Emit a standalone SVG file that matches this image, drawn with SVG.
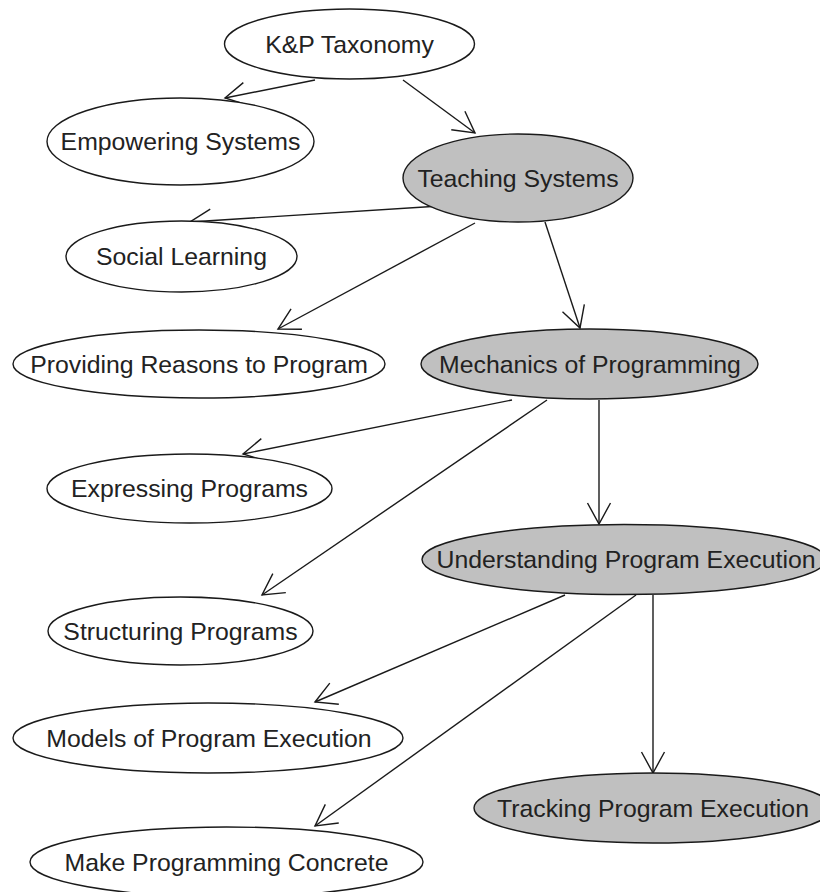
<svg xmlns="http://www.w3.org/2000/svg" width="820" height="892" viewBox="0 0 820 892">
<defs>
<style>
.n ellipse{fill:#ffffff;stroke:#1a1a1a;stroke-width:1.4}
.n.g ellipse{fill:#c0c0c0}
.n text{font-family:"Liberation Sans",Arial,sans-serif;font-size:24.8px;fill:#222;text-anchor:middle}
.e line{stroke:#1a1a1a;stroke-width:1.4;marker-end:url(#a)}
</style>
<marker id="a" markerUnits="userSpaceOnUse" markerWidth="30" markerHeight="30" viewBox="-25 -15 30 30" refX="0" refY="0" orient="auto">
<path d="M-21,-11.5 L0,0 L-21,11.5" fill="none" stroke="#1a1a1a" stroke-width="1.4"/>
</marker>
</defs>
<rect width="820" height="892" fill="#fff"/>
<g class="e">
<line x1="315" y1="80" x2="225" y2="98"/>
<line x1="403" y1="80" x2="475" y2="133"/>
<line x1="440" y1="206" x2="190" y2="222"/>
<line x1="475" y1="223" x2="278" y2="329"/>
<line x1="545" y1="222" x2="580" y2="328"/>
<line x1="512" y1="400" x2="243" y2="454"/>
<line x1="547" y1="400" x2="262" y2="595"/>
<line x1="599" y1="400" x2="599" y2="524"/>
<line x1="565" y1="595" x2="315" y2="702"/>
<line x1="636" y1="595" x2="315" y2="826"/>
<line x1="653" y1="595" x2="653" y2="773"/>
</g>
<g id="kp" class="n"><ellipse cx="349.5" cy="44" rx="125" ry="35"/><text x="349.5" y="52.5">K&amp;P Taxonomy</text></g>
<g id="empowering" class="n"><ellipse cx="180.5" cy="141.5" rx="133.5" ry="43.5"/><text x="180.5" y="150">Empowering Systems</text></g>
<g id="teaching" class="n g"><ellipse cx="518" cy="178" rx="115" ry="44"/><text x="518" y="186.5">Teaching Systems</text></g>
<g id="social" class="n"><ellipse cx="181.5" cy="256.5" rx="115.5" ry="35.5"/><text x="181.5" y="265">Social Learning</text></g>
<g id="providing" class="n"><ellipse cx="199" cy="364" rx="186" ry="34"/><text x="199" y="372.5">Providing Reasons to Program</text></g>
<g id="mechanics" class="n g"><ellipse cx="589.5" cy="364" rx="168.5" ry="35"/><text x="590" y="372.5">Mechanics of Programming</text></g>
<g id="expressing" class="n"><ellipse cx="189.5" cy="488.5" rx="142.5" ry="34.5"/><text x="189.5" y="497">Expressing Programs</text></g>
<g id="understanding" class="n g"><ellipse cx="624" cy="559.5" rx="202" ry="35"/><text x="626" y="568">Understanding Program Execution</text></g>
<g id="structuring" class="n"><ellipse cx="180.5" cy="631" rx="132.5" ry="34"/><text x="180.5" y="639.5">Structuring Programs</text></g>
<g id="models" class="n"><ellipse cx="208" cy="738" rx="195" ry="35"/><text x="209" y="746.5">Models of Program Execution</text></g>
<g id="tracking" class="n g"><ellipse cx="653" cy="808" rx="179" ry="35"/><text x="653" y="816.5">Tracking Program Execution</text></g>
<g id="concrete" class="n"><ellipse cx="226.5" cy="862" rx="196.5" ry="35"/><text x="226.5" y="870.5">Make Programming Concrete</text></g>
</svg>
